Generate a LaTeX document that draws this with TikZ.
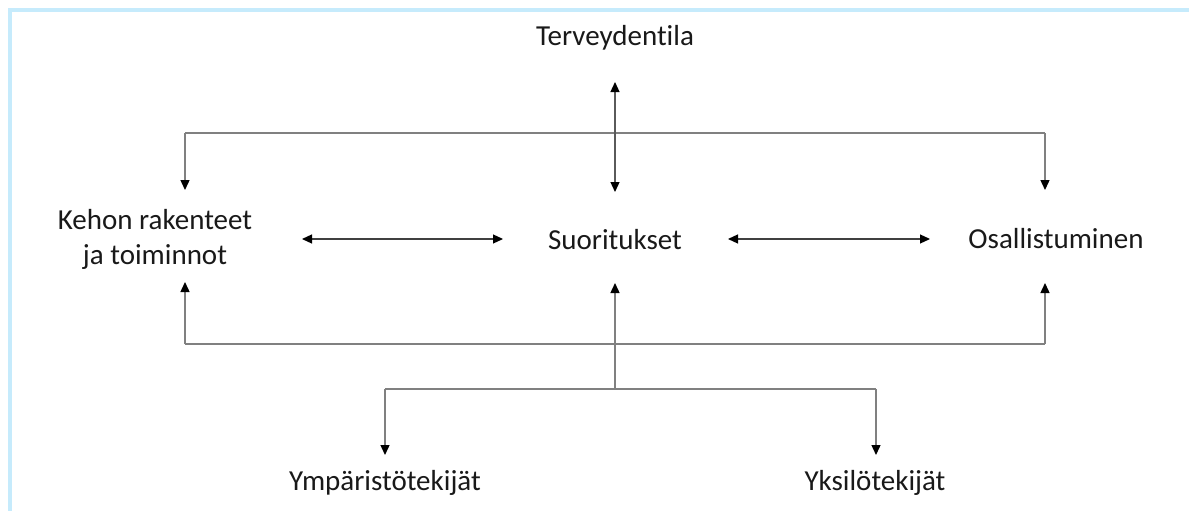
\documentclass[tikz,border=0pt]{standalone}
\usepackage{fontspec}
\setmainfont{Carlito}[Ligatures=NoCommon]
\usetikzlibrary{arrows.meta}
\definecolor{framecol}{HTML}{C6EBFC}
\definecolor{linegray}{HTML}{808080}
\definecolor{arrowdark}{HTML}{404040}
\begin{document}
\begin{tikzpicture}[x=1pt,y=-1pt,
  lbl/.style={inner sep=0pt, anchor=base, font=\fontsize{29}{35}\selectfont, text=black!90},
  tree/.style={draw=linegray, line width=1.4pt},
  tip/.style={-{Triangle[length=10pt,width=9pt,color=black]}},
  both/.style={{Triangle[length=10pt,width=9pt,color=black]}-{Triangle[length=10pt,width=9pt,color=black]}},
  dbl/.style={draw=arrowdark, line width=1.2pt}
]
\useasboundingbox (0,0) rectangle (1189,511);
\fill[white] (0,0) rectangle (1189,511);
\draw[framecol, line width=4pt] (10,515) -- (10,10) -- (1193,10);

% nodes
\node[lbl] (terv) at (615,46) {Terveydentila};
\node[lbl] (suor) at (615,249) {Suoritukset};
\node[lbl, align=center, anchor=center] (kehon) at (155,239) {Kehon rakenteet\\ja toiminnot};
\node[lbl] (osal) at (1056,248) {Osallistuminen};
\node[lbl] (ymp) at (385,490) {Ympäristötekijät};
\node[lbl] (yks) at (875,490) {Yksilötekijät};

% arrow end coordinates
\coordinate (tervBot) at (615,82);
\coordinate (suorTop) at (615,192);
\coordinate (topJ) at (615,133);
\coordinate (topL) at (185,133);
\coordinate (topR) at (1045,133);
\coordinate (kehonTop) at (185,190);
\coordinate (osalTop) at (1045,190);
\coordinate (kehonRight) at (302,239);
\coordinate (suorLeft) at (503,239);
\coordinate (suorRight) at (728,239);
\coordinate (osalLeft) at (930,239);
\coordinate (kehonBot) at (185,282);
\coordinate (suorBot) at (615,283);
\coordinate (osalBot) at (1045,283);
\coordinate (midL) at (185,344);
\coordinate (midR) at (1045,344);
\coordinate (lowJ) at (615,389);
\coordinate (lowL) at (385,389);
\coordinate (lowR) at (876,389);
\coordinate (ympTop) at (385,455);
\coordinate (yksTop) at (876,455);

% top tree
\draw[tree] (topL) -- (topR);
\draw[tree, tip] (topL) -- (kehonTop);
\draw[tree, tip] (topR) -- (osalTop);
\draw[dbl, draw=linegray!70!black, both] (tervBot) -- (suorTop);

% horizontal double arrows
\draw[dbl, both] (kehonRight) -- (suorLeft);
\draw[dbl, both] (suorRight) -- (osalLeft);

% lower tree
\draw[tree] (midL) -- (midR);
\draw[tree, tip] (midL) -- (kehonBot);
\draw[tree, tip] (midR) -- (osalBot);
\draw[tree, tip] (lowJ) -- (suorBot);
\draw[tree] (lowL) -- (lowR);
\draw[tree, tip] (lowL) -- (ympTop);
\draw[tree, tip] (lowR) -- (yksTop);
\end{tikzpicture}
\end{document}
